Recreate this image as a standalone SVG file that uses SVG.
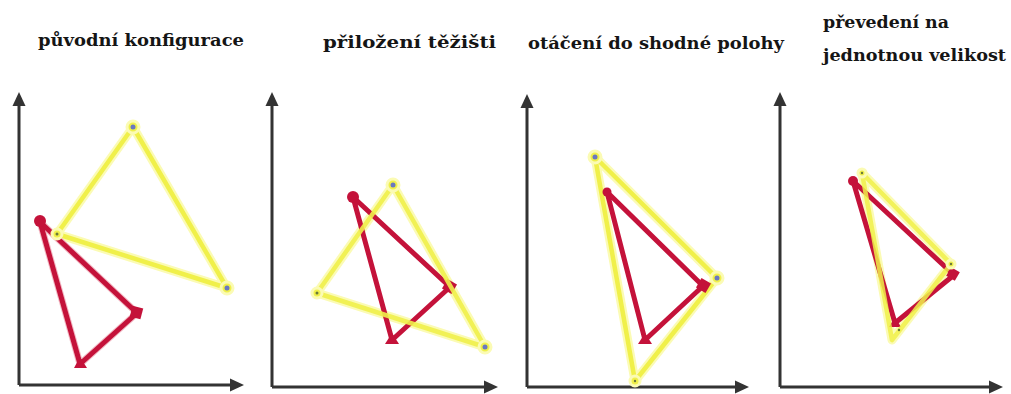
<svg xmlns="http://www.w3.org/2000/svg" width="1011" height="394" viewBox="0 0 1011 394">
<defs>
<style>
.title{font-family:"DejaVu Serif","Liberation Serif",serif;font-weight:bold;font-size:16px;fill:#151515}
.axis{stroke:#333;stroke-width:3;fill:none}
.ah{fill:#333}
.yh{fill:none;stroke:#fbfbb4;stroke-width:9;stroke-linejoin:round}
.yl{fill:none;stroke:#f0f04a;stroke-width:4.5;stroke-linejoin:round}
.rl{fill:none;stroke:#c4123a;stroke-width:5;stroke-linejoin:round}
.rh{fill:none;stroke:#f2b9c4;stroke-width:7;stroke-linejoin:round}
.yv{fill:#f0f04a;stroke:#fbfbb4;stroke-width:3}
.bd{fill:#6a78c0}
.sd{fill:#6b7a3a}
.rv{fill:#c4123a}
</style>
</defs>
<rect width="1011" height="394" fill="#fff"/>

<g id="panel1">
<text class="title" x="38" y="46" textLength="206" lengthAdjust="spacingAndGlyphs">původní konfigurace</text>
<g id="axes1">
<path class="axis" d="M19,385 V104 M19,385 H232"/>
<polygon class="ah" points="19,92 12.5,106 25.5,106"/>
<polygon class="ah" points="244,385 230,378.5 230,391.5"/>
</g>
<g id="tri1-yellow">
<polygon class="yh" points="133,127 227,288 57,234"/>
<polygon class="yl" points="133,127 227,288 57,234"/>
</g>
<g id="tri1-red">
<polygon class="rh" points="40,222 137,313 80,364"/>
<polygon class="rl" points="40,222 137,313 80,364"/>
<circle class="rv" cx="40" cy="221" r="6"/>
<rect class="rv" x="131" y="307" width="11" height="11" transform="rotate(15 136.5 312.5)"/>
<polygon class="rv" points="80,357 74,368 87,368"/>
</g>
<g id="tri1-yellow-vertices">
<circle class="yv" cx="133" cy="127" r="6"/>
<circle class="bd" cx="133" cy="127" r="2.5"/>
<circle class="yv" cx="227" cy="288" r="6"/>
<circle class="bd" cx="227" cy="288" r="2.5"/>
<circle class="yv" cx="57" cy="234" r="5"/>
<circle class="sd" cx="57" cy="234" r="1.5"/>
</g>
</g>

<g id="panel2">
<text class="title" x="323" y="48" textLength="173" lengthAdjust="spacingAndGlyphs">přiložení těžišti</text>
<g id="axes2">
<path class="axis" d="M272,387 V104 M272,387 H486"/>
<polygon class="ah" points="272,92 265.5,106 278.5,106"/>
<polygon class="ah" points="498,387 484,380.5 484,393.5"/>
</g>
<g id="tri2-yellow-under">
<polygon class="yh" points="393,185 485,347 317,293"/>
</g>
<g id="tri2-red">
<polygon class="rl" points="353,197 450,287 392,340"/>
<circle class="rv" cx="353" cy="197" r="6"/>
<rect class="rv" x="444" y="281" width="11" height="11" transform="rotate(30 449.5 286.5)"/>
<polygon class="rv" points="392,333 385,344 399,344"/>
</g>
<g id="tri2-yellow">
<polygon class="yl" points="393,185 485,347 317,293" opacity="0.9"/>
<circle class="yv" cx="393" cy="185" r="6"/>
<circle class="bd" cx="393" cy="185" r="2.5"/>
<circle class="yv" cx="485" cy="347" r="6"/>
<circle class="bd" cx="485" cy="347" r="2.5"/>
<circle class="yv" cx="317" cy="293" r="5"/>
<circle class="sd" cx="317" cy="293" r="1.5"/>
</g>
</g>

<g id="panel3">
<text class="title" x="528" y="49" textLength="256" lengthAdjust="spacingAndGlyphs">otáčení do shodné polohy</text>
<g id="axes3">
<path class="axis" d="M527,387 V106 M527,387 H737"/>
<polygon class="ah" points="527,94 520.5,108 533.5,108"/>
<polygon class="ah" points="749,387 735,380.5 735,393.5"/>
</g>
<g id="tri3-yellow">
<polygon class="yh" points="595,157 717,278 635,381"/>
<polygon class="yl" points="595,157 717,278 635,381"/>
</g>
<g id="tri3-red">
<polygon class="rl" points="607,192 703,286 645,340"/>
<circle class="rv" cx="607" cy="192" r="4.5"/>
<rect class="rv" x="698" y="280" width="11" height="11" transform="rotate(30 703.5 285.5)"/>
<polygon class="rv" points="645,333 638,344 652,344"/>
</g>
<g id="tri3-yellow-vertices">
<circle class="yv" cx="595" cy="157" r="6"/>
<circle class="bd" cx="595" cy="157" r="2.5"/>
<circle class="yv" cx="717" cy="278" r="6"/>
<circle class="bd" cx="717" cy="278" r="2.5"/>
<circle class="yv" cx="635" cy="381" r="5"/>
<circle class="sd" cx="635" cy="381" r="1.2"/>
</g>
</g>

<g id="panel4">
<text class="title" x="823" y="28" textLength="126" lengthAdjust="spacingAndGlyphs">převedení na</text>
<text class="title" x="823" y="61" textLength="183" lengthAdjust="spacingAndGlyphs">jednotnou velikost</text>
<g id="axes4">
<path class="axis" d="M780,387 V104 M780,387 H991"/>
<polygon class="ah" points="780,92 773.5,106 786.5,106"/>
<polygon class="ah" points="1003,387 989,380.5 989,393.5"/>
</g>
<g id="tri4-yellow-under">
<polygon class="yh" points="862,173 951,264 892,340"/>
</g>
<g id="tri4-red">
<polygon class="rl" points="853,181 954,275 895,323"/>
<circle class="rv" cx="853" cy="181" r="5"/>
<rect class="rv" x="948" y="269" width="10" height="10" transform="rotate(30 953 274)"/>
<polygon class="rv" points="895,317 889,327 901,327"/>
</g>
<g id="tri4-yellow">
<polygon class="yl" points="862,173 951,264 892,340" opacity="0.85"/>
<circle class="yv" cx="862" cy="173" r="4"/>
<circle class="sd" cx="862" cy="173" r="1.2"/>
<circle class="yv" cx="951" cy="264" r="4"/>
<circle class="sd" cx="951" cy="264" r="1.2"/>
<circle class="sd" cx="899" cy="330" r="1.2"/>
</g>
</g>
</svg>
